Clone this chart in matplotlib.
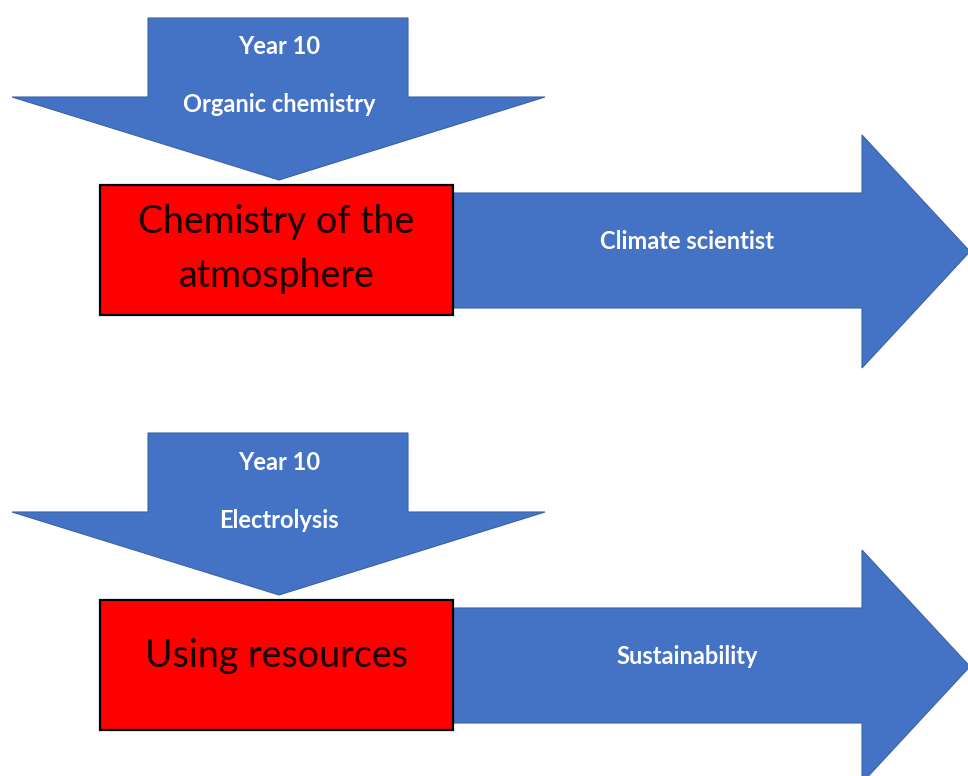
import matplotlib
matplotlib.use("Agg")
import matplotlib.pyplot as plt
from matplotlib.patches import Polygon, Rectangle

# diagram content, one entry per row (top to bottom)
year_labels = ["Year 10", "Year 10"]
topic_labels = ["Organic chemistry", "Electrolysis"]
box_labels = ["Chemistry of the\natmosphere", "Using resources"]
career_labels = ["Climate scientist", "Sustainability"]
row_offsets = [0, 415]  # vertical shift of each row, px
box_text_shift = [-1, -9]

# shape geometry of the first row, in pixels (y grows downwards)
down_stem = (148, 408, 18, 97)      # x0, x1, top, shoulder
down_wings = (12, 545, 180)         # left, right, tip y
box_rect = (100, 185, 353, 130)     # x, y, w, h
right_body = (453, 862, 193, 308)   # x0, head base x, top, bottom
right_head = (135, 368, 970)        # head top, head bottom, tip x

BLUE = "#4472C4"
BLUE_EDGE = "#3A62A8"
RED = "#FF0000"
FONT = ["Lato", "DejaVu Sans"]

fig = plt.figure(figsize=(9.68, 7.76), dpi=100)
ax = fig.add_axes([0, 0, 1, 1])
ax.set_xlim(0, 968)
ax.set_ylim(776, 0)
ax.axis("off")

for i, dy in enumerate(row_offsets):
    # right arrow (career)
    x0, xb, top, bot = right_body
    htop, hbot, tipx = right_head
    mid = (top + bot) / 2
    pts = [(x0, top), (xb, top), (xb, htop), (tipx, (htop + hbot) / 2),
           (xb, hbot), (xb, bot), (x0, bot)]
    ax.add_patch(Polygon([(x, y + dy) for x, y in pts], closed=True,
                         facecolor=BLUE, edgecolor=BLUE_EDGE, lw=0.8, zorder=1))
    ax.text((x0 + xb) / 2 + 30, mid + dy - 9, career_labels[i], color="white",
            fontsize=17, fontweight="bold", family=FONT,
            ha="center", va="center", zorder=5)

    # red topic box
    bx, by, bw, bh = box_rect
    ax.add_patch(Rectangle((bx, by + dy), bw, bh, facecolor=RED,
                           edgecolor="black", lw=1.6, zorder=2))
    ax.text(bx + bw / 2, by + bh / 2 + dy + box_text_shift[i], box_labels[i],
            color="#1a0000", fontsize=27, family=FONT, ha="center",
            va="center", linespacing=1.62, zorder=5)

    # down arrow (prior learning)
    sx0, sx1, stop, sh = down_stem
    wl, wr, tipy = down_wings
    cx = (wl + wr) / 2 + 0.5
    pts = [(sx0, stop), (sx1, stop), (sx1, sh), (wr, sh), (cx, tipy),
           (wl, sh), (sx0, sh)]
    ax.add_patch(Polygon([(x, y + dy) for x, y in pts], closed=True,
                         facecolor=BLUE, edgecolor=BLUE_EDGE, lw=0.8, zorder=3))
    ax.text(cx, 47 + dy, year_labels[i], color="white", fontsize=17,
            fontweight="bold", family=FONT,
            ha="center", va="center", zorder=5)
    ax.text(cx, 105 + dy, topic_labels[i], color="white", fontsize=17,
            fontweight="bold", family=FONT,
            ha="center", va="center", zorder=5)

fig.savefig("out.png", dpi=100)
